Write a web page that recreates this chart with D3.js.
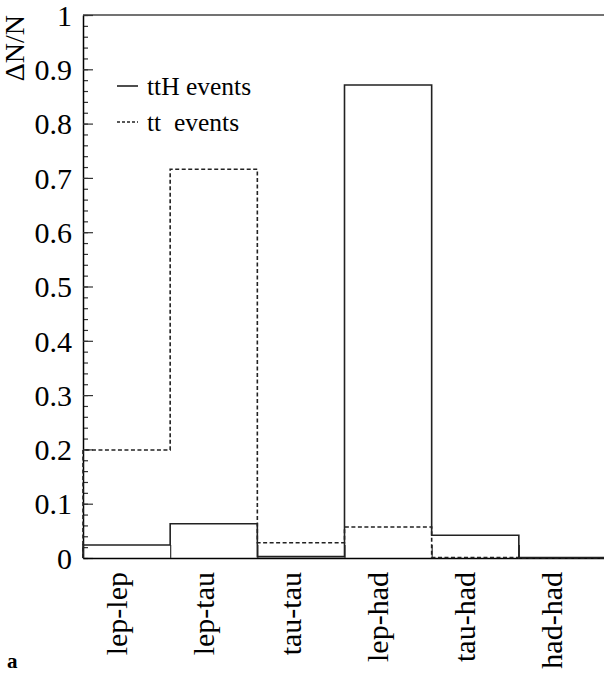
<!DOCTYPE html>
<html>
<head>
<meta charset="utf-8">
<script src="https://cdn.jsdelivr.net/npm/d3@7"></script>
<style>
  body { margin: 0; background: #fff; }
  svg { display: block; font-family: "Liberation Serif", "Times New Roman", serif; }
</style>
</head>
<body>
<svg id="chart" width="604" height="677"></svg>
<script>
// Decay channels (bins)
const categories = ['lep-lep', 'lep-tau', 'tau-tau', 'lep-had', 'tau-had', 'had-had'];
// ttH events, solid
const tthValues = [0.024, 0.063, 0.0025, 0.871, 0.042, 0.001];
// tt events, dashed
const ttValues = [0.199, 0.716, 0.028, 0.057, 0.001, 0];
const yMajorTicks = [0, 0.1, 0.2, 0.3, 0.4, 0.5, 0.6, 0.7, 0.8, 0.9, 1];
const legendLabels = ['ttH events', 'tt  events'];

const svg = d3.select('#chart');

// plot frame
const plotLeft = 83, plotRight = 606, plotTop = 15, plotBottom = 558;

const x = d3.scaleBand()
  .domain(categories)
  .range([plotLeft, plotRight])
  .paddingInner(0).paddingOuter(0);

const y = d3.scaleLinear()
  .domain([0, 1])
  .range([plotBottom, plotTop]);

// top border
svg.append('line')
  .attr('x1', plotLeft).attr('x2', 604)
  .attr('y1', plotTop).attr('y2', plotTop)
  .attr('stroke', '#444').attr('stroke-width', 1.5);

// Build step outline for one histogram
function stepPoints(values){
  const pts = [[x(categories[0]), y(0)]];
  categories.forEach((c, i) => {
    pts.push([x(c), y(values[i])]);
    pts.push([x(c) + x.bandwidth(), y(values[i])]);
  });
  return pts;
}

const line = d3.line();

// y axis, minor ticks
const minorTicks = d3.range(0, 51).map(d => d / 50);
svg.append('g')
  .attr('transform', `translate(${plotLeft},0)`)
  .call(d3.axisLeft(y).tickValues(minorTicks).tickSizeInner(-5).tickSizeOuter(0).tickFormat(''))
  .call(g => g.select('.domain').remove())
  .call(g => g.selectAll('line').attr('stroke', '#333').attr('stroke-width', 1.2));

// y axis, major ticks
svg.append('g')
  .attr('transform', `translate(${plotLeft},0)`)
  .call(d3.axisLeft(y).tickValues(yMajorTicks).tickSizeInner(-10).tickSizeOuter(0)
    .tickPadding(11).tickFormat(d => d === 0 || d === 1 ? String(d) : d3.format('.1f')(d)))
  .call(g => g.select('.domain').attr('stroke', '#000').attr('stroke-width', 1.5))
  .call(g => g.selectAll('line').attr('stroke', '#333').attr('stroke-width', 1.2))
  .call(g => g.selectAll('text')
    .attr('font-size', 30)
    .attr('font-family', '"Liberation Serif", "Times New Roman", serif')
    .attr('fill', '#000')
    .attr('dy', '0.34em'));

// x axis: ticks at bin edges
const edges = categories.map(c => x(c)).concat([plotRight]);
const xEdge = d3.scaleLinear().domain([plotLeft, plotRight]).range([plotLeft, plotRight]);
svg.append('g')
  .attr('transform', `translate(0,${plotBottom})`)
  .call(d3.axisBottom(xEdge).tickValues(edges).tickSizeInner(-13).tickSizeOuter(0).tickFormat(''))
  .call(g => g.select('.domain').attr('stroke', '#000').attr('stroke-width', 1.5))
  .call(g => g.selectAll('line').attr('stroke', '#333').attr('stroke-width', 1.2));

// tt histogram (dashed)
svg.append('path')
  .attr('d', line(stepPoints(ttValues)))
  .attr('fill', 'none')
  .attr('stroke', '#222')
  .attr('stroke-width', 1.6)
  .attr('stroke-dasharray', '4,2.5');

// ttH histogram (solid)
svg.append('path')
  .attr('d', line(stepPoints(tthValues)))
  .attr('fill', 'none')
  .attr('stroke', '#222')
  .attr('stroke-width', 1.6);

// category labels, rotated
svg.append('g')
  .selectAll('text')
  .data(categories)
  .join('text')
    .attr('transform', d => `translate(${x(d) + x.bandwidth() / 2},572) rotate(-90)`)
    .attr('text-anchor', 'end')
    .attr('font-size', 30)
    .attr('fill', '#000')
    .text(d => d);

// y title
svg.append('text')
  .attr('transform', 'translate(24,15) rotate(-90)')
  .attr('text-anchor', 'end')
  .attr('font-size', 28)
  .attr('fill', '#000')
  .text('ΔN/N');

// legend
const legend = svg.append('g');
legendLabels.forEach((lab, i) => {
  const ly = 86 + i * 36;
  legend.append('line')
    .attr('x1', 117).attr('x2', 138)
    .attr('y1', ly).attr('y2', ly)
    .attr('stroke', '#222').attr('stroke-width', 1.6)
    .attr('stroke-dasharray', i === 0 ? null : '3,2');
  legend.append('text')
    .attr('x', 147).attr('y', ly + 9)
    .attr('font-size', 25.5)
    .attr('fill', '#000')
    .style('white-space', 'pre')
    .text(lab);
});

// panel letter
svg.append('text')
  .attr('x', 7).attr('y', 668)
  .attr('font-size', 21)
  .attr('font-weight', 'bold')
  .attr('fill', '#000')
  .text('a');
</script>
</body>
</html>
